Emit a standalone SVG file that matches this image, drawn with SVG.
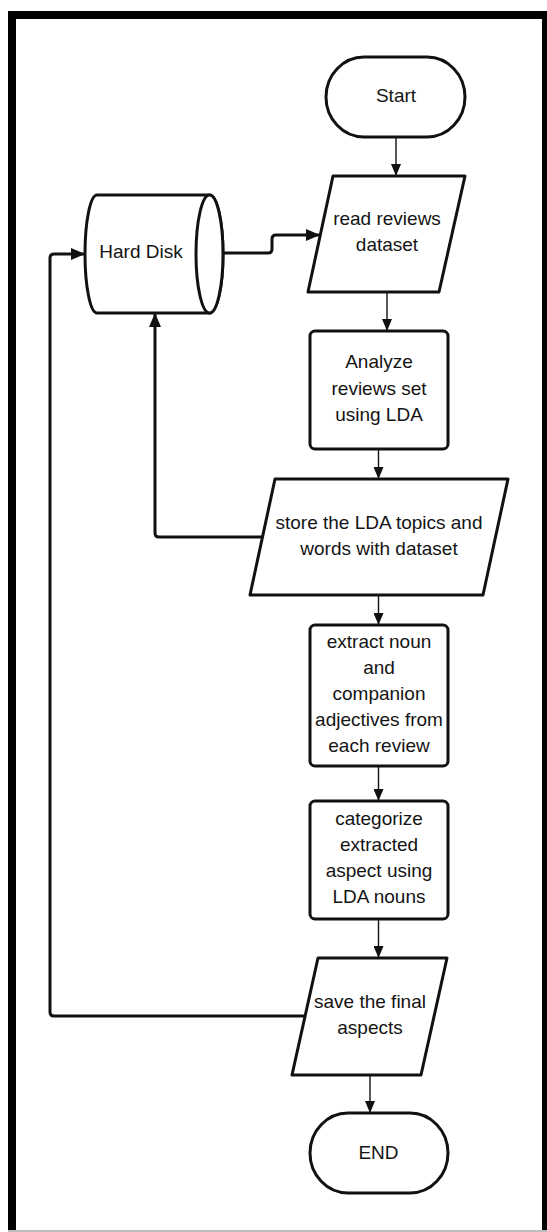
<svg xmlns="http://www.w3.org/2000/svg" width="547" height="1232" viewBox="0 0 547 1232">
<style>
  .shape { fill: #ffffff; stroke: #111111; stroke-width: 3; stroke-linejoin: round; }
  .lbl { font-family: "Liberation Sans", Arial, sans-serif; font-size: 19px; fill: #141414; text-anchor: middle; }
  .thin { fill: none; stroke: #111111; stroke-width: 1.4; }
  .thick { fill: none; stroke: #111111; stroke-width: 3; stroke-linejoin: round; }
</style>
<defs>
  <marker id="arrS" viewBox="0 0 12 10" markerWidth="12" markerHeight="10" refX="12" refY="5" orient="auto" markerUnits="userSpaceOnUse">
    <path d="M0,0 L12,5 L0,10 z" fill="#111111"/>
  </marker>
  <marker id="arrL" viewBox="0 0 14 12" markerWidth="14" markerHeight="12" refX="14" refY="6" orient="auto" markerUnits="userSpaceOnUse">
    <path d="M0,0 L14,6 L0,12 z" fill="#111111"/>
  </marker>
</defs>
<rect x="0" y="0" width="547" height="1232" fill="#ffffff"/>
<g id="frame">
  <rect x="8" y="11" width="8" height="1220" fill="#000000"/>
  <rect x="8" y="11" width="539" height="8" fill="#000000"/>
  <rect x="542" y="11" width="5" height="1220" fill="#000000"/>
  <rect x="8" y="1230" width="539" height="2" fill="#bdbdbd"/>
</g>
<g id="connectors">
  <path class="thin" d="M396,137 V176" marker-end="url(#arrS)"/>
  <path class="thin" d="M387,292 V331" marker-end="url(#arrS)"/>
  <path class="thin" d="M378.5,449 V479" marker-end="url(#arrS)"/>
  <path class="thin" d="M378.5,595 V625" marker-end="url(#arrS)"/>
  <path class="thin" d="M378.5,766 V801" marker-end="url(#arrS)"/>
  <path class="thin" d="M378.5,919 V958" marker-end="url(#arrS)"/>
  <path class="thin" d="M370,1075 V1113" marker-end="url(#arrS)"/>
  <path class="thick" d="M223,253 H268 Q272,253 272,249 V239 Q272,235 276,235 H320" marker-end="url(#arrL)"/>
  <path class="thick" d="M262,537 H159 Q155,537 155,533 V313" marker-end="url(#arrL)"/>
  <path class="thick" d="M305,1016 H54 Q50,1016 50,1012 V258 Q50,254 54,254 H85" marker-end="url(#arrL)"/>
</g>
<g id="start">
  <rect class="shape" x="326" y="57" width="139" height="80" rx="38" ry="40"/>
  <text class="lbl" x="396" y="102">Start</text>
</g>
<g id="hard-disk">
  <path class="shape" d="M97,195 H209.5 A13.5,59 0 0 1 209.5,313 H97 A12,59 0 0 1 97,195 Z"/>
  <ellipse class="shape" cx="209.5" cy="254" rx="13.5" ry="59" fill="none"/>
  <text class="lbl" x="141" y="258">Hard Disk</text>
</g>
<g id="read-reviews">
  <polygon class="shape" points="333,176 465,176 439,292 308,292"/>
  <text class="lbl" x="387" y="225">read reviews</text>
  <text class="lbl" x="387" y="251">dataset</text>
</g>
<g id="analyze">
  <rect class="shape" x="310" y="331" width="138" height="118" rx="5"/>
  <text class="lbl" x="379" y="368">Analyze</text>
  <text class="lbl" x="379" y="394.5">reviews set</text>
  <text class="lbl" x="379" y="421">using LDA</text>
</g>
<g id="store-topics">
  <polygon class="shape" points="275,479 508,479 483,595 250,595"/>
  <text class="lbl" x="379" y="529">store the LDA topics and</text>
  <text class="lbl" x="379" y="555">words with dataset</text>
</g>
<g id="extract">
  <rect class="shape" x="310" y="625" width="138" height="141" rx="5"/>
  <text class="lbl" x="379" y="647.5">extract noun</text>
  <text class="lbl" x="379" y="673.5">and</text>
  <text class="lbl" x="379" y="699.5">companion</text>
  <text class="lbl" x="379" y="725.5">adjectives from</text>
  <text class="lbl" x="379" y="751.5">each review</text>
</g>
<g id="categorize">
  <rect class="shape" x="310" y="801" width="138" height="118" rx="5"/>
  <text class="lbl" x="379" y="825">categorize</text>
  <text class="lbl" x="379" y="851">extracted</text>
  <text class="lbl" x="379" y="877">aspect using</text>
  <text class="lbl" x="379" y="903">LDA nouns</text>
</g>
<g id="save-aspects">
  <polygon class="shape" points="318,958 447,958 421,1075 292,1075"/>
  <text class="lbl" x="370" y="1008">save the final</text>
  <text class="lbl" x="370" y="1033.5">aspects</text>
</g>
<g id="end">
  <rect class="shape" x="310" y="1113" width="138" height="80" rx="38" ry="40"/>
  <text class="lbl" x="378.5" y="1158.5">END</text>
</g>
</svg>
